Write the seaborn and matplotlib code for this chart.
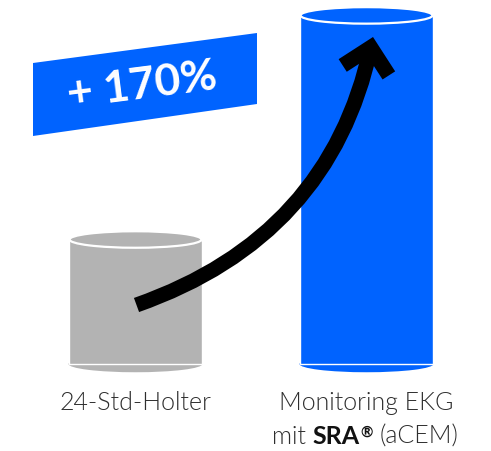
import matplotlib
matplotlib.use("Agg")
import matplotlib.pyplot as plt
import seaborn as sns
import pandas as pd
from matplotlib.patches import Ellipse, Polygon, FancyArrowPatch

# ---- data ----
categories = ["24-Std-Holter", "Monitoring EKG"]
values = [100, 280]
label_line1 = ["24-Std-Holter", "Monitoring EKG"]
label_line2_parts = ["mit", "SRA", "®", "(aCEM)"]
increase_label = "+ 170%"
bar_colors = ["#b3b3b3", "#0063ff"]

W, H, DPI = 491, 452, 100
sns.set_theme(style="white")
plt.rcParams['font.family'] = ['Lato', 'DejaVu Sans']

fig = plt.figure(figsize=(W / DPI, H / DPI), dpi=DPI)
ax = fig.add_axes([0, 0, 1, 1])

df = pd.DataFrame({"cat": categories, "val": values})
sns.barplot(data=df, x="cat", y="val", hue="cat", palette=bar_colors,
            width=0.58, legend=False, ax=ax, saturation=1, zorder=2)

# pixel <-> data mapping (axes fills the figure)
X0, XS = 135.5, 231.0      # px of category 0, px per category
Y0, YS = 365.0, 1.245      # px (from top) of baseline, px per unit
ax.set_xlim(-X0 / XS, (W - X0) / XS)
ax.set_ylim(-(H - Y0) / YS, Y0 / YS)
ax.set_axis_off()


def px(x, y):
    return ((x - X0) / XS, (Y0 - y) / YS)


# cylinder ends
ell_h = 16.5 / YS
for p, c in zip(ax.patches, bar_colors):
    cx = p.get_x() + p.get_width() / 2
    w = p.get_width()
    h = p.get_height()
    ax.add_patch(Ellipse((cx, 0), w, ell_h, facecolor=c, edgecolor="none", zorder=1))
    ax.add_patch(Ellipse((cx, h), w * 0.985, ell_h, facecolor=c, edgecolor="white",
                         lw=1.6, zorder=3))

# blue slanted label band
band = Polygon([px(33, 64), px(257, 34), px(257, 105), px(33, 137)], closed=True,
               facecolor="#0063ff", edgecolor="none", zorder=2)
ax.add_patch(band)
ax.text(*px(142, 86), increase_label, rotation=7.3, rotation_mode="anchor",
        ha="center", va="center", color="white", fontsize=32, fontweight="bold",
        zorder=4)

# curved arrow
arrow = FancyArrowPatch(posA=px(136.5, 306), posB=px(373, 38),
                        arrowstyle="->,head_length=1,head_width=1",
                        mutation_scale=17, connectionstyle="arc3,rad=0.28",
                        lw=10.8, color="black", joinstyle="miter", capstyle="butt",
                        shrinkA=0, shrinkB=0, zorder=6)
ax.add_patch(arrow)

# category labels
txt_col = "#2e2e2e"
fs = 18
LIGHT = 300
for i, lab in enumerate(label_line1):
    ax.text(i, px(0, 410)[1], lab, ha="center", va="baseline", color=txt_col,
            fontsize=fs, fontweight=LIGHT)

renderer = fig.canvas.get_renderer()


def width_px(s, weight, size):
    t = ax.text(0, 0, s, fontsize=size, fontweight=weight)
    w = t.get_window_extent(renderer).width
    t.remove()
    return w


space = width_px("a a", LIGHT, fs) - width_px("aa", LIGHT, fs)
weights = [LIGHT, "bold", "bold", LIGHT]
sizes = [fs, fs, fs * 0.6, fs]
raises = [0, 0, 7, 0]
gaps = [space, 0.5, space, 0]
widths = [width_px(s, wt, sz) for s, wt, sz in zip(label_line2_parts, weights, sizes)]
total = sum(widths) + sum(gaps[:-1])
xpos = 365 - total / 2
for s, wt, sz, r, w, g in zip(label_line2_parts, weights, sizes, raises, widths, gaps):
    ax.text(*px(xpos, 444 - r), s, ha="left", va="baseline",
            color=txt_col if wt == LIGHT else "#111111",
            fontsize=sz, fontweight=wt)
    xpos += w + g

fig.savefig("out.png", dpi=DPI)
